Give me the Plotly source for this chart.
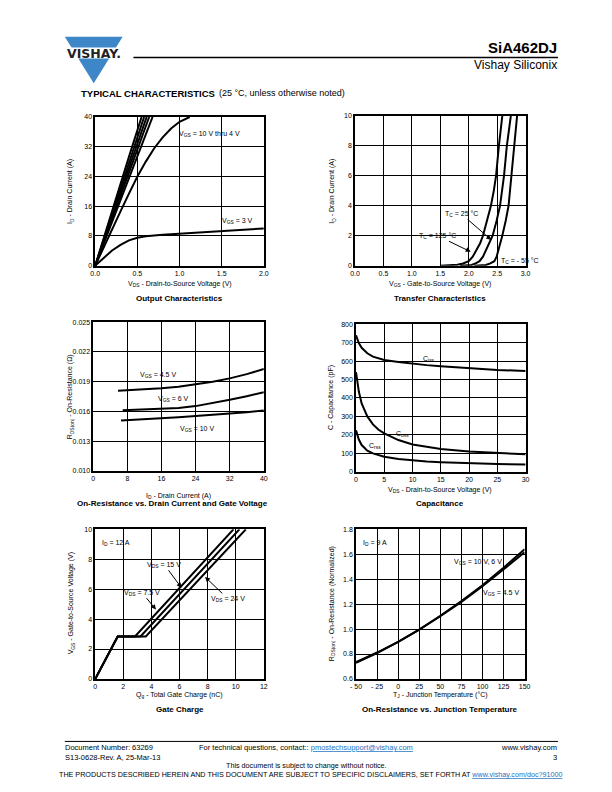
import plotly.graph_objects as go

W, H = 612, 792
FONT = "Liberation Sans, Arial, Helvetica, sans-serif"

# ---------------- data ----------------
# Output characteristics
out_id_lin = [0, 10, 20, 30, 40]
out_vds_10v = [0, 0.135, 0.27, 0.41, 0.55]
out_vds_8v = [0, 0.145, 0.29, 0.435, 0.58]
out_vds_6v = [0, 0.152, 0.305, 0.455, 0.61]
out_vds_5v = [0, 0.16, 0.32, 0.48, 0.64]
out_vds_45v = [0, 0.17, 0.34, 0.51, 0.68]
out_vds_4v = [0, 0.1, 0.2, 0.3, 0.4, 0.5, 0.6, 0.7, 0.8, 0.9, 1.0, 1.12]
out_id_4v = [0, 5, 10, 14.6, 19.4, 24, 28, 31.6, 34.5, 36.9, 38.7, 40]
out_vds_3v = [0, 0.05, 0.1, 0.2, 0.3, 0.4, 0.5, 0.6, 0.8, 1.0, 1.25, 1.5, 1.75, 2.0]
out_id_3v = [0, 1.0, 2.1, 4.1, 5.6, 6.8, 7.5, 7.9, 8.3, 8.6, 9.0, 9.35, 9.7, 10.0]
out_x_ticks = [0, 0.5, 1.0, 1.5, 2.0]
out_x_labels = ["0.0", "0.5", "1.0", "1.5", "2.0"]
out_y_ticks = [0, 8, 16, 24, 32, 40]

# Transfer characteristics
tr_vgs_125 = [1.5, 1.65, 1.8, 1.9, 2.0, 2.07, 2.13, 2.2, 2.25, 2.32, 2.39, 2.44, 2.48, 2.53, 2.59]
tr_id_125 = [0, 0.01, 0.06, 0.15, 0.3, 0.6, 1.0, 1.5, 2.0, 3.0, 4.0, 5.0, 6.0, 8.0, 10.0]
tr_vgs_25 = [1.85, 1.95, 2.05, 2.12, 2.19, 2.25, 2.30, 2.36, 2.42, 2.49, 2.55, 2.62, 2.67, 2.74]
tr_id_25 = [0, 0.01, 0.05, 0.15, 0.3, 0.6, 1.0, 1.5, 2.0, 3.0, 4.0, 6.0, 8.0, 10.0]
tr_vgs_m55 = [2.1, 2.2, 2.3, 2.38, 2.45, 2.49, 2.52, 2.56, 2.59, 2.65, 2.70, 2.75, 2.80, 2.85]
tr_id_m55 = [0, 0.01, 0.05, 0.15, 0.3, 0.6, 1.0, 1.5, 2.0, 3.0, 4.0, 6.0, 8.0, 10.0]
tr_x_ticks = [0, 0.5, 1.0, 1.5, 2.0, 2.5, 3.0]
tr_x_labels = ["0.0", "0.5", "1.0", "1.5", "2.0", "2.5", "3.0"]
tr_y_ticks = [0, 2, 4, 6, 8, 10]

# On-resistance vs drain current
rd_id_45v = [5.8, 8, 12, 16, 20, 24, 28, 32, 36, 40]
rd_r_45v = [0.01807, 0.01812, 0.01822, 0.01833, 0.01849, 0.01870, 0.01898, 0.01933, 0.01976, 0.02027]
rd_id_6v = [6.9, 8, 12, 16, 20, 24, 28, 32, 36, 40]
rd_r_6v = [0.0161, 0.01612, 0.01615, 0.0162, 0.01633, 0.01653, 0.01682, 0.01717, 0.01753, 0.01793]
rd_id_10v = [6.5, 8, 12, 16, 20, 24, 28, 32, 36, 40]
rd_r_10v = [0.01507, 0.0151, 0.01518, 0.01527, 0.0154, 0.01553, 0.01565, 0.01577, 0.01592, 0.0161]
rd_x_ticks = [0, 8, 16, 24, 32, 40]
rd_y_ticks = [0.010, 0.013, 0.016, 0.019, 0.022, 0.025]
rd_y_labels = ["0.010", "0.013", "0.016", "0.019", "0.022", "0.025"]

# Capacitance
cap_vds = [0, 0.25, 0.5, 1, 1.5, 2, 3, 4, 5, 7.5, 10, 12.5, 15, 20, 25, 30]
cap_ciss = [740, 715, 698, 672, 655, 642, 624, 614, 606, 595, 586, 578, 572, 561, 552, 546]
cap_coss = [540, 480, 435, 370, 330, 300, 257, 228, 208, 172, 148, 134, 124, 110, 101, 95]
cap_crss = [225, 195, 175, 145, 128, 115, 100, 89, 82, 70, 62, 56, 52, 46, 42, 40]
cap_x_ticks = [0, 5, 10, 15, 20, 25, 30]
cap_y_ticks = [0, 100, 200, 300, 400, 500, 600, 700, 800]

# Gate charge
gc_vgs = [0, 2.84, 2.84, 10]
gc_qg_75v = [0, 1.6, 2.83, 9.84]
gc_qg_15v = [0, 1.6, 3.22, 10.26]
gc_qg_24v = [0, 1.6, 3.6, 10.72]
gc_x_ticks = [0, 2, 4, 6, 8, 10, 12]
gc_y_ticks = [0, 2, 4, 6, 8, 10]

# On-resistance vs junction temperature
tj = [-50, -25, 0, 25, 50, 75, 100, 125, 150]
tj_r_10v = [0.73, 0.808, 0.897, 0.996, 1.107, 1.224, 1.352, 1.492, 1.64]
tj_r_45v = [0.736, 0.812, 0.898, 0.996, 1.103, 1.217, 1.343, 1.478, 1.615]
tj_x_ticks = [-50, -25, 0, 25, 50, 75, 100, 125, 150]
tj_x_labels = ["- 50", "- 25", "0", "25", "50", "75", "100", "125", "150"]
tj_y_ticks = [0.6, 0.8, 1.0, 1.2, 1.4, 1.6, 1.8]
tj_y_labels = ["0.6", "0.8", "1.0", "1.2", "1.4", "1.6", "1.8"]

# ---------------- helpers ----------------
def px(x):
    return x / W

def py(y):
    return 1 - y / H

fig = go.Figure()

# panel pixel boxes: (left, right, top, bottom)
boxes = [
    (91, 263, 114, 264),
    (356, 530, 113, 264),
    (89, 263, 321, 471),
    (357, 530, 323, 472),
    (91, 263, 530, 681),
    (357, 529, 530, 681),
]

axis_specs = [
    dict(xr=[0, 2.0], yr=[0, 40], xt=out_x_ticks, xl=out_x_labels, yt=out_y_ticks, yl=[str(v) for v in out_y_ticks]),
    dict(xr=[0, 3.0], yr=[0, 10], xt=tr_x_ticks, xl=tr_x_labels, yt=tr_y_ticks, yl=[str(v) for v in tr_y_ticks]),
    dict(xr=[0, 40], yr=[0.010, 0.025], xt=rd_x_ticks, xl=[str(v) for v in rd_x_ticks], yt=rd_y_ticks, yl=rd_y_labels),
    dict(xr=[0, 30], yr=[0, 800], xt=cap_x_ticks, xl=[str(v) for v in cap_x_ticks], yt=cap_y_ticks, yl=[str(v) for v in cap_y_ticks]),
    dict(xr=[0, 12], yr=[0, 10], xt=gc_x_ticks, xl=[str(v) for v in gc_x_ticks], yt=gc_y_ticks, yl=[str(v) for v in gc_y_ticks]),
    dict(xr=[-50, 150], yr=[0.6, 1.8], xt=tj_x_ticks, xl=tj_x_labels, yt=tj_y_ticks, yl=tj_y_labels),
]

layout_axes = {}
for i, ((l, r, t, b), s) in enumerate(zip(boxes, axis_specs), start=1):
    xa = "xaxis" if i == 1 else f"xaxis{i}"
    ya = "yaxis" if i == 1 else f"yaxis{i}"
    common = dict(
        showgrid=True, gridcolor="black", gridwidth=1,
        showline=True, linecolor="black", linewidth=1.5, mirror=True,
        zeroline=False, ticks="", tickfont=dict(family=FONT, size=7, color="black"),
        fixedrange=True,
    )
    layout_axes[xa] = dict(domain=[px(l), px(r)], range=s["xr"], tickvals=s["xt"], ticktext=s["xl"],
                           anchor=f"y{'' if i == 1 else i}", **common)
    layout_axes[ya] = dict(domain=[py(b), py(t)], range=s["yr"], tickvals=s["yt"], ticktext=s["yl"],
                           anchor=f"x{'' if i == 1 else i}", **common)

LINE = dict(color="black", width=2)

def add(x, y, i):
    fig.add_trace(go.Scatter(x=x, y=y, mode="lines", line=LINE, showlegend=False, hoverinfo="skip",
                             xaxis=f"x{'' if i == 1 else i}", yaxis=f"y{'' if i == 1 else i}"))

# panel 1
for v in [out_vds_10v, out_vds_8v, out_vds_6v, out_vds_5v, out_vds_45v]:
    add(v, out_id_lin, 1)
add(out_vds_4v, out_id_4v, 1)
add(out_vds_3v, out_id_3v, 1)
# panel 2
add(tr_vgs_125, tr_id_125, 2)
add(tr_vgs_25, tr_id_25, 2)
add(tr_vgs_m55, tr_id_m55, 2)
# panel 3
add(rd_id_45v, rd_r_45v, 3)
add(rd_id_6v, rd_r_6v, 3)
add(rd_id_10v, rd_r_10v, 3)
# panel 4
add(cap_vds, cap_ciss, 4)
add(cap_vds, cap_coss, 4)
add(cap_vds, cap_crss, 4)
# panel 5
add(gc_qg_75v, gc_vgs, 5)
add(gc_qg_15v, gc_vgs, 5)
add(gc_qg_24v, gc_vgs, 5)
# panel 6
add(tj, tj_r_10v, 6)
add(tj, tj_r_45v, 6)

ann = []

def text(x, y, s, size=7, bold=False, anchor="center", angle=0, color="black", fam=FONT):
    if bold:
        s = f"<b>{s}</b>"
    ann.append(dict(x=px(x), y=py(y), xref="paper", yref="paper", text=s, showarrow=False,
                    xanchor=anchor, yanchor="middle", textangle=angle, borderpad=0,
                    font=dict(family=fam, size=size, color=color)))

def arrow_text(tx, ty, hx, hy, s, size=7):
    ann.append(dict(x=px(hx), y=py(hy), xref="paper", yref="paper", text=s, showarrow=True,
                    ax=tx - hx, ay=ty - hy, arrowhead=2, arrowsize=1, arrowwidth=1, arrowcolor="black",
                    font=dict(family=FONT, size=size, color="black"), xanchor="center", yanchor="middle"))

# header
text(563, 44, "SiA462DJ", size=15, bold=True, anchor="right")
text(563, 62, "Vishay Siliconix", size=12, anchor="right")
text(75, 90, "TYPICAL CHARACTERISTICS", size=9.5, bold=True, anchor="left")
text(216, 90, "(25 °C, unless otherwise noted)", size=9, anchor="left")
text(89.5, 49.5, "VISHAY.", size=12.5, bold=True, fam="DejaVu Sans, sans-serif", color="#222")

# panel 1 texts
text(208, 131, "V<sub>GS</sub> = 10 V thru 4 V")
text(236, 219, "V<sub>GS</sub> = 3 V")
text(177, 283, "V<sub>DS</sub> - Drain-to-Source Voltage (V)")
text(66, 189, "I<sub>D</sub> - Drain Current (A)", angle=-90)
text(177, 297, "Output Characteristics", size=8, bold=True)

# panel 2 texts
arrow_text(465, 212, 495, 238, "T<sub>C</sub> = 25 °C")
arrow_text(441, 234, 474, 250, "T<sub>C</sub> = 125 °C")
text(524, 259, "T<sub>C</sub> = - 55 °C")
text(443, 283, "V<sub>GS</sub> - Gate-to-Source Voltage (V)")
text(333, 189, "I<sub>D</sub> - Drain Current (A)", angle=-90)
text(443, 297, "Transfer Characteristics", size=8, bold=True)

# panel 3 texts
text(155, 374, "V<sub>GS</sub> = 4.5 V")
text(171, 399, "V<sub>GS</sub> = 6 V")
text(195, 429, "V<sub>GS</sub> = 10 V")
text(176, 496, "I<sub>D</sub> - Drain Current (A)")
text(65, 396, "R<sub>DS(on)</sub> - On-Resistance (Ω)", angle=-90)
text(170, 504, "On-Resistance vs. Drain Current and Gate Voltage", size=8, bold=True)

# panel 4 texts
text(431, 358, "C<sub>iss</sub>")
text(404, 434, "C<sub>oss</sub>")
text(376, 446, "C<sub>rss</sub>")
text(443, 490, "V<sub>DS</sub> - Drain-to-Source Voltage (V)")
text(332, 397, "C - Capacitance (pF)", angle=-90)
text(443, 504, "Capacitance", size=8, bold=True)

# panel 5 texts
text(112, 544, "I<sub>D</sub> = 12 A")
arrow_text(162, 566, 179, 589, "V<sub>DS</sub> = 15 V")
arrow_text(139, 594, 153, 611, "V<sub>DS</sub> = 7.5 V")
arrow_text(226, 600, 203, 578, "V<sub>DS</sub> = 24 V")
text(177, 697, "Q<sub>g</sub> - Total Gate Charge (nC)")
text(66, 605, "V<sub>GS</sub> - Gate-to-Source Voltage (V)", angle=-90)
text(177, 712, "Gate Charge", size=8, bold=True)

# panel 6 texts
text(376, 544, "I<sub>D</sub> = 9 A")
text(481, 563, "V<sub>GS</sub> = 10 V, 6 V")
text(505, 594, "V<sub>GS</sub> = 4.5 V")
text(443, 697, "T<sub>J</sub> - Junction Temperature (°C)")
text(332, 605, "R<sub>DS(on)</sub> - On-Resistance (Normalized)", angle=-90)
text(443, 712, "On-Resistance vs. Junction Temperature", size=8, bold=True)

# footer
LINK = "#1f6fc0"
text(59, 750, "Document Number: 63269", size=7.5, anchor="left")
text(59, 760, "S13-0628-Rev. A, 25-Mar-13", size=7.5, anchor="left")
text(196, 750, f"For technical questions, contact:: <span style='color:{LINK}'><u>pmostechsupport@vishay.com</u></span>", size=7.5, anchor="left")
text(563, 750, "www.vishay.com", size=7.5, anchor="right")
text(563, 760, "3", size=7.5, anchor="right")
text(306, 768, "This document is subject to change without notice.", size=7.2)
text(311, 777, f"THE PRODUCTS DESCRIBED HEREIN AND THIS DOCUMENT ARE SUBJECT TO SPECIFIC DISCLAIMERS, SET FORTH AT <span style='color:{LINK}'><u>www.vishay.com/doc?91000</u></span>", size=7.2)

# shapes
shapes = [
    dict(type="path", xref="paper", yref="paper",
         path=f"M {px(60)},{py(33)} L {px(119)},{py(33)} L {px(89.5)},{py(80)} Z",
         fillcolor="#3d86c8", line=dict(width=0)),
    dict(type="rect", xref="paper", yref="paper", x0=px(57), x1=px(122), y0=py(55), y1=py(44),
         fillcolor="white", line=dict(width=0)),
    dict(type="line", xref="paper", yref="paper", x0=px(130), x1=px(563), y0=py(54), y1=py(54),
         line=dict(color="black", width=1.5)),
    dict(type="line", xref="paper", yref="paper", x0=px(60), x1=px(563), y0=py(744), y1=py(744),
         line=dict(color="black", width=1)),
]

fig.update_layout(
    width=W, height=H, autosize=False,
    margin=dict(l=0, r=0, t=0, b=0),
    paper_bgcolor="white", plot_bgcolor="white",
    showlegend=False,
    annotations=ann, shapes=shapes,
    font=dict(family=FONT, color="black"),
    **layout_axes,
)

fig.write_html(
    "out.html",
    config={"displayModeBar": False},
    post_script="document.body.style.margin='0';document.body.style.padding='0';"
                "document.documentElement.style.overflow='hidden';document.body.style.overflow='hidden';",
)
